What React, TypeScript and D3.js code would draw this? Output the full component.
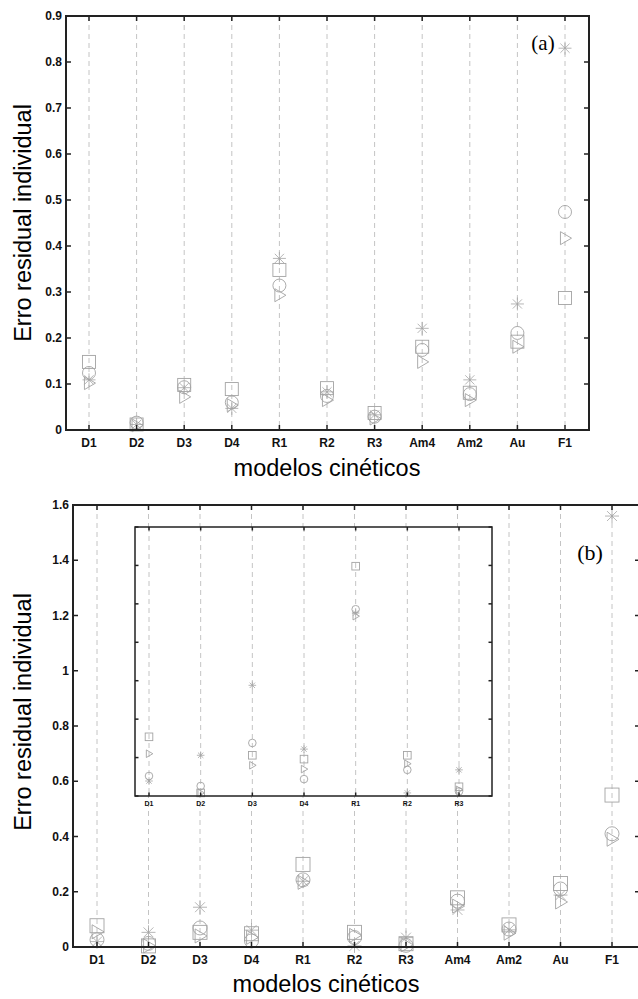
import React, { useRef, useEffect } from 'react';
import * as d3 from 'd3';

// kinetic models along x
const models = ["D1", "D2", "D3", "D4", "R1", "R2", "R3", "Am4", "Am2", "Au", "F1"];
const insetModels = ["D1", "D2", "D3", "D4", "R1", "R2", "R3"];

// panel (a)
const aSquare = [0.148, 0.012, 0.098, 0.089, 0.348, 0.091, 0.037, 0.181, 0.081, 0.192, 0.287];
const aCircle = [0.124, 0.016, 0.093, 0.060, 0.314, 0.074, 0.029, 0.174, 0.078, 0.211, 0.474];
const aTriangle = [0.102, 0.010, 0.072, 0.054, 0.293, 0.065, 0.025, 0.148, 0.065, 0.181, 0.417];
const aStar = [0.109, 0.012, 0.092, 0.047, 0.373, 0.083, 0.033, 0.221, 0.109, 0.274, 0.830];
const aTicks = [0, 0.1, 0.2, 0.3, 0.4, 0.5, 0.6, 0.7, 0.8, 0.9];

// panel (b)
const bSquare = [0.077, 0.004, 0.053, 0.048, 0.299, 0.053, 0.012, 0.178, 0.080, 0.230, 0.550];
const bCircle = [0.026, 0.013, 0.069, 0.022, 0.243, 0.034, 0.006, 0.166, 0.065, 0.210, 0.410];
const bTriangle = [0.055, 0.004, 0.040, 0.035, 0.234, 0.042, 0.008, 0.148, 0.050, 0.163, 0.390];
const bStar = [0.0195, 0.053, 0.144, 0.061, 0.238, 0.004, 0.034, 0.134, 0.062, 0.188, 1.560];
const bTicks = [0, 0.2, 0.4, 0.6, 0.8, 1, 1.2, 1.4, 1.6];
const insetTicks = [0, 0.05, 0.1, 0.15, 0.2, 0.25, 0.3, 0.35];

const MARK = "#a3a3a3";
const GRID = "#c4c4c4";
const AXIS = "#222";
const SANS = "'Liberation Sans', Arial, Helvetica, sans-serif";
const SERIF = "'Liberation Serif', 'Times New Roman', serif";

function drawMarker(g, kind, cx, cy, s) {
    if (kind === "square") {
        g.append("rect").attr("x", cx - s).attr("y", cy - s).attr("width", 2 * s).attr("height", 2 * s)
            .attr("fill", "none").attr("stroke", MARK).attr("stroke-width", 0.9);
    } else if (kind === "circle") {
        g.append("circle").attr("cx", cx).attr("cy", cy).attr("r", s)
            .attr("fill", "none").attr("stroke", MARK).attr("stroke-width", 0.9);
    } else if (kind === "triangle") {
        const pts = [[cx - 0.7 * s, cy - s], [cx + s, cy], [cx - 0.7 * s, cy + s]];
        g.append("path").attr("d", d3.line()(pts) + "Z")
            .attr("fill", "none").attr("stroke", MARK).attr("stroke-width", 0.9);
    } else {
        for (let k = 0; k < 4; k++) {
            const a = k * Math.PI / 4;
            g.append("line")
                .attr("x1", cx - s * Math.cos(a)).attr("y1", cy - s * Math.sin(a))
                .attr("x2", cx + s * Math.cos(a)).attr("y2", cy + s * Math.sin(a))
                .attr("stroke", MARK).attr("stroke-width", 0.8);
        }
    }
}

function drawPanel(svg, opt) {
    const { left, right, top, bottom, firstX, lastX, cats, yMax, ticks, series, size,
        labelSize, tickLen, frameWidth, showYLabels, labelDy, background } = opt;
    const g = svg.append("g");
    const x = d3.scaleLinear().domain([1, cats.length]).range([firstX, lastX]);
    const y = d3.scaleLinear().domain([0, yMax]).range([bottom, top]);

    if (background) {
        g.append("rect").attr("x", left).attr("y", top).attr("width", right - left)
            .attr("height", bottom - top).attr("fill", "white");
    }

    // dashed guides at each model
    g.selectAll(".grid").data(cats).enter().append("line")
        .attr("x1", (d, i) => x(i + 1)).attr("x2", (d, i) => x(i + 1))
        .attr("y1", top).attr("y2", bottom)
        .attr("stroke", GRID).attr("stroke-width", 1).attr("stroke-dasharray", "5,4");

    // markers
    series.forEach(sr => {
        sr.values.forEach((v, i) => drawMarker(g, sr.kind, x(i + 1), y(v), size));
    });

    // ticks pointing inward
    cats.forEach((c, i) => {
        g.append("line").attr("x1", x(i + 1)).attr("x2", x(i + 1)).attr("y1", bottom).attr("y2", bottom - tickLen)
            .attr("stroke", AXIS).attr("stroke-width", 1.5);
        g.append("line").attr("x1", x(i + 1)).attr("x2", x(i + 1)).attr("y1", top).attr("y2", top + tickLen)
            .attr("stroke", AXIS).attr("stroke-width", 1.5);
        g.append("text").attr("x", x(i + 1)).attr("y", bottom + labelDy)
            .attr("text-anchor", "middle").attr("font-family", SANS).attr("font-weight", "bold")
            .attr("font-size", labelSize).attr("fill", "#111").text(c);
    });
    ticks.forEach(t => {
        g.append("line").attr("x1", left).attr("x2", left + tickLen).attr("y1", y(t)).attr("y2", y(t))
            .attr("stroke", AXIS).attr("stroke-width", 1.5);
        g.append("line").attr("x1", right).attr("x2", right - tickLen).attr("y1", y(t)).attr("y2", y(t))
            .attr("stroke", AXIS).attr("stroke-width", 1.5);
        if (showYLabels) {
            g.append("text").attr("x", left - 4).attr("y", y(t) + 4)
                .attr("text-anchor", "end").attr("font-family", SANS).attr("font-weight", "bold")
                .attr("font-size", labelSize).attr("fill", "#111").text(String(t));
        }
    });

    g.append("rect").attr("x", left).attr("y", top).attr("width", right - left).attr("height", bottom - top)
        .attr("fill", "none").attr("stroke", AXIS).attr("stroke-width", frameWidth);
}

function createFigure(container) {
    d3.select(container).selectAll("*").remove();
    const svg = d3.select(container).append("svg")
        .attr("width", 638).attr("height", 999)
        .style("position", "absolute").style("left", "0px").style("top", "0px")
        .style("background", "white");

    // (a)
    drawPanel(svg, {
        left: 66, right: 589, top: 16, bottom: 430, firstX: 89, lastX: 565, cats: models,
        yMax: 0.9, ticks: aTicks, size: 6.5, labelSize: 12, tickLen: 5, frameWidth: 2,
        showYLabels: true, labelDy: 17, background: false,
        series: [
            { kind: "square", values: aSquare },
            { kind: "circle", values: aCircle },
            { kind: "triangle", values: aTriangle },
            { kind: "star", values: aStar },
        ],
    });
    svg.append("text").attr("x", 543).attr("y", 50).attr("text-anchor", "middle")
        .attr("font-family", SERIF).attr("font-size", 21).text("(a)");
    svg.append("text").attr("x", 327).attr("y", 476).attr("text-anchor", "middle")
        .attr("font-family", SANS).attr("font-size", 23.5).text("modelos cinéticos");
    svg.append("text").attr("transform", "translate(31,223) rotate(-90)").attr("text-anchor", "middle")
        .attr("font-family", SANS).attr("font-size", 23.5).text("Erro residual individual");

    // (b)
    drawPanel(svg, {
        left: 73, right: 640, top: 505, bottom: 947, firstX: 97, lastX: 612, cats: models,
        yMax: 1.6, ticks: bTicks, size: 7, labelSize: 12, tickLen: 5, frameWidth: 2,
        showYLabels: true, labelDy: 17, background: false,
        series: [
            { kind: "square", values: bSquare },
            { kind: "circle", values: bCircle },
            { kind: "triangle", values: bTriangle },
            { kind: "star", values: bStar },
        ],
    });
    svg.append("text").attr("x", 590).attr("y", 560).attr("text-anchor", "middle")
        .attr("font-family", SERIF).attr("font-size", 22).text("(b)");
    svg.append("text").attr("x", 326).attr("y", 992).attr("text-anchor", "middle")
        .attr("font-family", SANS).attr("font-size", 23.5).text("modelos cinéticos");
    svg.append("text").attr("transform", "translate(31,712) rotate(-90)").attr("text-anchor", "middle")
        .attr("font-family", SANS).attr("font-size", 23.5).text("Erro residual individual");

    // inset: zoom of D1..R3
    const n = insetModels.length;
    drawPanel(svg, {
        left: 135, right: 492, top: 527, bottom: 796, firstX: 149, lastX: 459, cats: insetModels,
        yMax: 0.35, ticks: insetTicks, size: 3.8, labelSize: 7, tickLen: 3.5, frameWidth: 1.5,
        showYLabels: false, labelDy: 10, background: true,
        series: [
            { kind: "square", values: bSquare.slice(0, n) },
            { kind: "circle", values: bCircle.slice(0, n) },
            { kind: "triangle", values: bTriangle.slice(0, n) },
            { kind: "star", values: bStar.slice(0, n) },
        ],
    });
}

const App = () => {
    const containerRef = useRef(null);
    useEffect(() => {
        if (containerRef.current) createFigure(containerRef.current);
    }, []);
    return <div ref={containerRef}></div>;
};

export default App;
